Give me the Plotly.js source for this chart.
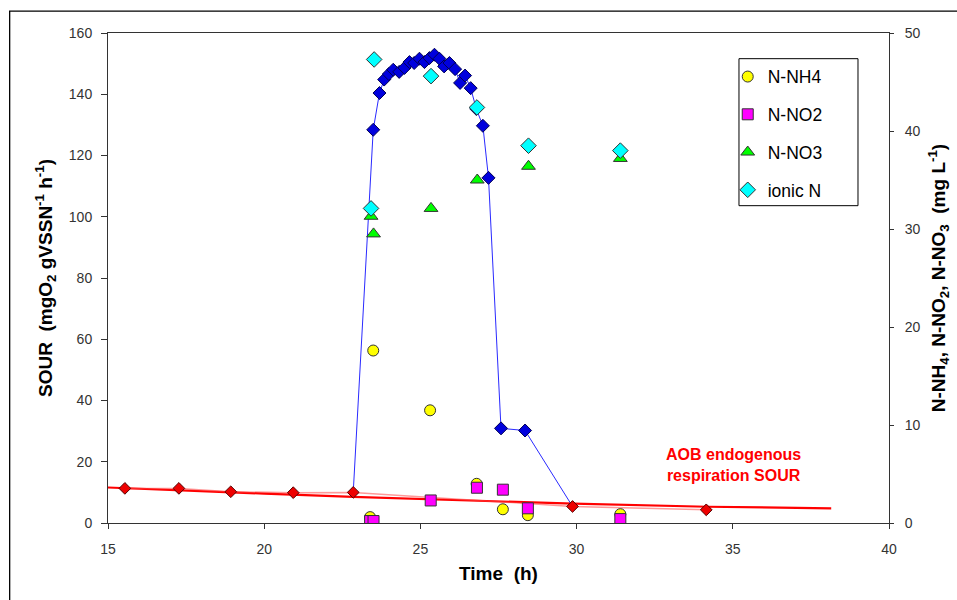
<!DOCTYPE html>
<html><head><meta charset="utf-8">
<script src="https://cdn.plot.ly/plotly-3.0.1.min.js"></script>
<style>html,body{margin:0;padding:0;background:#fff;}#chart{width:957px;height:600px;}</style>
</head><body><div id="chart"></div>
<script>
// SOUR (left axis) – nitrification run
const sourTime = [22.85, 23.49, 23.69, 23.84, 23.99, 24.13, 24.32, 24.49, 24.65, 24.80, 24.97, 25.13, 25.29, 25.45, 25.61, 25.76, 25.93, 26.11, 26.27, 26.43, 26.61, 26.79, 27.00, 27.18, 27.58, 28.35, 29.87];
const sourVal  = [10.0, 128.4, 140.4, 144.8, 146.6, 148.0, 147.3, 148.6, 150.5, 150.2, 151.6, 150.5, 151.8, 152.9, 151.6, 149.1, 150.2, 148.2, 143.7, 146.1, 142.0, 135.2, 129.7, 112.7, 30.9, 30.2, 5.4];
// AOB endogenous respiration SOUR points
const endoTime = [15.54, 17.27, 18.93, 20.93, 22.85, 29.87, 34.15];
const endoVal  = [11.3, 11.3, 10.2, 9.9, 10.0, 5.4, 4.3];
// trend line
const trendTime = [15, 17.27, 20, 22.85, 26.27, 29.9, 34.18, 38.15];
const trendVal  = [11.6, 10.8, 9.6, 8.5, 7.5, 6.3, 5.3, 4.8];
// nitrogen species (right axis)
const nh4Time = [23.39, 23.49, 25.31, 26.80, 27.64, 28.44, 31.40];
const nh4Val  = [0.6, 17.6, 11.5, 4.0, 1.4, 0.8, 0.9];
const no2Time = [23.39, 23.50, 25.33, 26.81, 27.64, 28.44, 31.40];
const no2Val  = [0.2, 0.2, 2.3, 3.6, 3.4, 1.5, 0.4];
const no3Time = [23.42, 23.50, 25.34, 26.82, 28.46, 31.40];
const no3Val  = [31.3, 29.5, 32.1, 35.0, 36.4, 37.2];
const ionTime = [23.42, 23.52, 25.34, 26.81, 28.46, 31.40];
const ionVal  = [32.1, 47.3, 45.6, 42.4, 38.5, 38.0];

const xTicks = [15, 20, 25, 30, 35, 40];
const yTicks = [0, 20, 40, 60, 80, 100, 120, 140, 160];
const y2Ticks = [0, 10, 20, 30, 40, 50];

const FONT = 'Arial, "Liberation Sans", sans-serif';
const mk = (sym, size, col) => ({symbol: sym, size: size, color: col, line: {color: '#333', width: 1}});

const traces = [
  {x: trendTime, y: trendVal, mode: 'lines', line: {color: '#FF0000', width: 2.2}, showlegend: false, hoverinfo: 'skip'},
  {x: endoTime, y: endoVal, mode: 'lines', line: {color: 'rgba(255,70,70,0.55)', width: 1.5}, showlegend: false},
  {x: sourTime, y: sourVal, mode: 'lines', line: {color: '#2A2AFF', width: 1}, showlegend: false},
  {x: sourTime.slice(1, -1), y: sourVal.slice(1, -1), mode: 'markers',
   marker: {symbol: 'diamond', size: 10, color: '#0000DD', line: {color: '#000055', width: 1}}, showlegend: false},
  {x: endoTime, y: endoVal, mode: 'markers',
   marker: {symbol: 'diamond', size: 9, color: '#EE0000', line: {color: '#550000', width: 1}}, showlegend: false},
  {name: 'N-NH4', x: nh4Time, y: nh4Val, yaxis: 'y2', mode: 'markers', marker: mk('circle', 11, '#FFFF00'), legendgroup: 'a'},
  {name: 'N-NO2', x: no2Time, y: no2Val, yaxis: 'y2', mode: 'markers', marker: mk('square', 11, '#FF00FF'), legendgroup: 'b'},
  {name: 'N-NO3', x: no3Time, y: no3Val, yaxis: 'y2', mode: 'markers', marker: mk('triangle-up', 12, '#00FF00'), legendgroup: 'c'},
  {name: 'ionic N', x: ionTime, y: ionVal, yaxis: 'y2', mode: 'markers', marker: mk('diamond', 12, '#00FFFF'), legendgroup: 'd'}
];

const axisCommon = {
  showline: true, linecolor: '#333', linewidth: 1, showgrid: false, zeroline: false,
  ticks: 'outside', tickcolor: '#333', tickwidth: 1,
  tickfont: {family: FONT, size: 14, color: '#333'}
};

const layout = {
  width: 957, height: 600,
  margin: {l: 108, r: 68, t: 33, b: 77},
  paper_bgcolor: '#fff', plot_bgcolor: '#fff',
  font: {family: FONT, color: '#000'},
  xaxis: Object.assign({}, axisCommon, {
    range: [15, 40], tickvals: xTicks, ticklen: 5, mirror: true, ticklabelstandoff: 8,
    title: {text: 'Time  (h)', standoff: 10, font: {family: FONT, size: 19, weight: 'bold', color: '#000'}}
  }),
  yaxis: Object.assign({}, axisCommon, {
    range: [0, 160], tickvals: yTicks, ticklen: 6, ticklabelstandoff: 6,
    title: {text: 'SOUR  (mgO<sub>2</sub> gVSSN<sup>-1</sup> h<sup>-1</sup>)', standoff: 11,
            font: {family: FONT, size: 19, weight: 'bold', color: '#000'}}
  }),
  yaxis2: Object.assign({}, axisCommon, {
    overlaying: 'y', side: 'right', range: [0, 50], tickvals: y2Ticks, ticklen: 4, ticklabelstandoff: 8,
    title: {text: 'N-NH<sub>4</sub>, N-NO<sub>2</sub>, N-NO<sub>3</sub>  (mg L<sup>-1</sup>)', standoff: 12,
            font: {family: FONT, size: 19, weight: 'bold', color: '#000'}}
  }),
  showlegend: true,
  legend: {
    x: 0.7935, y: 0.9476, xanchor: 'left', yanchor: 'top',
    bgcolor: 'rgba(0,0,0,0)', borderwidth: 0,
    traceorder: 'grouped', tracegroupgap: 12,
    font: {family: FONT, size: 17.5, color: '#000'}
  },
  shapes: [
    {type: 'rect', xref: 'paper', yref: 'paper', x0: 0.8079, x1: 0.9603, y0: 0.6476, y1: 0.9476,
     line: {color: '#000', width: 1}, fillcolor: '#fff', layer: 'above'},
    {type: 'rect', xref: 'paper', yref: 'paper', x0: -0.1259, x1: 1.2, y0: -0.3, y1: 1.0445,
     line: {color: '#000', width: 1.3}, fillcolor: 'rgba(0,0,0,0)'}
  ],
  annotations: [
    {x: 35.02, y: 19, xref: 'x', yref: 'y', showarrow: false, align: 'center',
     text: 'AOB endogenous<br>respiration SOUR',
     font: {family: FONT, size: 16, weight: 'bold', color: '#FF0000'}}
  ]
};

Plotly.newPlot('chart', traces, layout, {displayModeBar: false, staticPlot: true});
</script>
</body></html>
